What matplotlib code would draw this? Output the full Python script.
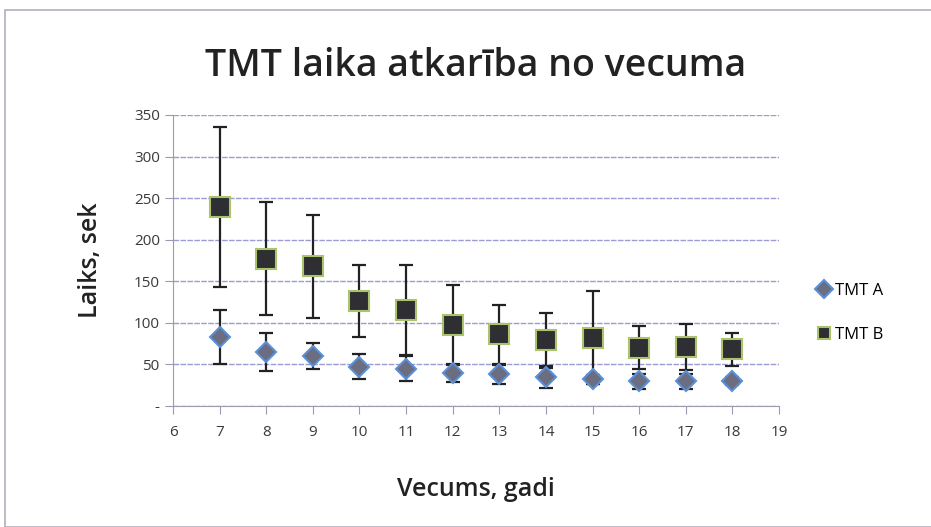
import matplotlib.pyplot as plt
from matplotlib.patches import Rectangle
from matplotlib.ticker import FuncFormatter

# data
vecums = [7, 8, 9, 10, 11, 12, 13, 14, 15, 16, 17, 18]
tmt_a = [83, 65, 60, 47, 45, 40, 38, 35, 32, 30, 30, 30]
tmt_a_err = [32, 23, 16, 15, 15, 11, 11, 13, 5, 9, 9, 5]
tmt_b = [239, 177, 168, 126, 115, 97, 86, 79, 82, 70, 71, 68]
tmt_b_err = [96, 68, 62, 43, 54, 48, 36, 33, 56, 26, 28, 20]

plt.rcParams['font.family'] = ['Open Sans', 'DejaVu Sans']

fig = plt.figure(figsize=(9.31, 5.27), dpi=100)
ax = fig.add_axes([173/931, 1 - 406/527, (779-173)/931, (406-115)/527])

ax.errorbar(vecums, tmt_a, yerr=tmt_a_err, fmt='none', ecolor='#222222',
            elinewidth=1.6, capsize=5, capthick=1.6, zorder=2)
ax.errorbar(vecums, tmt_b, yerr=tmt_b_err, fmt='none', ecolor='#222222',
            elinewidth=1.6, capsize=5, capthick=1.6, zorder=2)
ax.plot(vecums, tmt_a, linestyle='none', marker='D', markersize=10,
        markerfacecolor='#6b6d80', markeredgecolor='#5b8fd6', markeredgewidth=1.5,
        label='TMT A', zorder=3)
ax.plot(vecums, tmt_b, linestyle='none', marker='s', markersize=15,
        markerfacecolor='#2e2e33', markeredgecolor='#a9c46a', markeredgewidth=1.5,
        label='TMT B', zorder=3)

ax.set_xlim(6, 19)
ax.set_ylim(0, 350)
ax.set_xticks(range(6, 20))
ax.set_yticks(range(0, 351, 50))
ax.yaxis.set_major_formatter(FuncFormatter(lambda v, p: '-' if v == 0 else f'{int(v)}'))
ax.grid(axis='y', color='#9c9cd4', linestyle=(0, (4, 1)), linewidth=1.0, zorder=0)
for s in ['top', 'right']:
    ax.spines[s].set_visible(False)
for s in ['left', 'bottom']:
    ax.spines[s].set_color('#9a9ab0')
ax.tick_params(axis='both', colors='#9a9ab0', labelcolor='#3a3a3a', labelsize=11,
               length=6)
ax.tick_params(axis='x', pad=8)

ax.set_title('TMT laika atkarība no vecuma', fontsize=27, fontweight='semibold',
             color='#222222', pad=28)
ax.set_xlabel('Vecums, gadi', fontsize=18, fontweight='semibold', color='#222222',
              labelpad=26)
ax.set_ylabel('Laiks, sek', fontsize=18, fontweight='semibold', color='#222222',
              labelpad=22)

leg = ax.legend(loc='center left', bbox_to_anchor=(1.035, 0.32), frameon=False,
                fontsize=12, labelspacing=1.7, handletextpad=0.2,
                handlelength=1.0)
for h in leg.legend_handles:
    h.set_markersize(9)

fig.patches.append(Rectangle((5/931, 0.0), 1, 1 - 10/527, transform=fig.transFigure,
                             fill=False, edgecolor='#b0b0c0', linewidth=1.2))

fig.savefig('out.png', dpi=100)
